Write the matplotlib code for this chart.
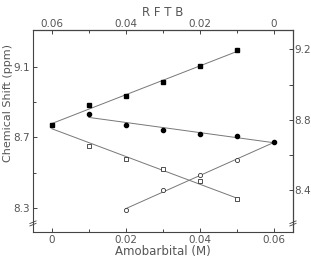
import numpy as np
import matplotlib
matplotlib.use("Agg")
import matplotlib.pyplot as plt

# Data (amobarbital concentration, M ; chemical shift, ppm)
x_start = [0.0]
y_start = [8.768]

x_fsq = [0.01, 0.02, 0.03, 0.04, 0.05]
y_fsq = [8.886, 8.935, 9.014, 9.105, 9.194]

x_fci = [0.01, 0.02, 0.03, 0.04, 0.05, 0.06]
y_fci = [8.832, 8.772, 8.745, 8.721, 8.706, 8.675]

x_osq = [0.01, 0.02, 0.03, 0.04, 0.05]
y_osq = [8.651, 8.577, 8.520, 8.450, 8.348]

x_oci = [0.02, 0.03, 0.04, 0.05]
y_oci = [8.290, 8.400, 8.486, 8.570]

bottom_ticks = [0, 0.02, 0.04, 0.06]
bottom_labels = ["0", "0.02", "0.04", "0.06"]
top_ticks = [0.06, 0.04, 0.02, 0]
top_labels = ["0.06", "0.04", "0.02", "0"]
left_ticks = [8.3, 8.7, 9.1]
right_ticks = [8.4, 8.8, 9.2]

txt = "#555555"
fig = plt.figure(figsize=(3.11, 2.61), dpi=100)
ax = fig.add_axes([0.106, 0.111, 0.836, 0.774])

lc = "#777777"
def fitline(xs, ys, x0, x1):
    p = np.polyfit(xs, ys, 1)
    xx = np.array([x0, x1])
    ax.plot(xx, np.polyval(p, xx), color=lc, lw=0.7, zorder=1)

fitline(x_start + x_fsq, y_start + y_fsq, 0.0, 0.05)
fitline(x_start + x_osq, y_start + y_osq, 0.0, 0.05)
fitline(x_fci, y_fci, 0.01, 0.06)
fitline(x_oci + [0.06], y_oci + [y_fci[-1]], 0.02, 0.06)

ms = 3.2
ax.plot(x_start, y_start, 's', color='black', ms=ms, zorder=3)
ax.plot(x_fsq, y_fsq, 's', color='black', ms=ms, zorder=3)
ax.plot(x_fci, y_fci, 'o', color='black', ms=3.0, zorder=3)
ax.plot(x_osq, y_osq, 's', mfc='white', mec='#333333', mew=0.6, ms=ms, zorder=3)
ax.plot(x_oci, y_oci, 'o', mfc='white', mec='#333333', mew=0.6, ms=3.0, zorder=3)

ax.set_xlim(-0.0051, 0.0651)
ax.set_ylim(8.163, 9.31)

for s in ax.spines.values():
    s.set_color("#444444")
    s.set_linewidth(0.8)

fs = 7.5
lfs = 8.5
ax.set_xticks(bottom_ticks)
ax.set_xticklabels(bottom_labels)
ax.set_xticks(np.arange(0, 0.061, 0.01), minor=True)
ax.set_yticks(left_ticks)
ax.set_yticklabels([f"{v:.1f}" for v in left_ticks])
ax.set_yticks(np.arange(8.3, 9.15, 0.2), minor=True)
ax.tick_params(which='both', direction='in', colors="#444444", labelcolor=txt, labelsize=fs, length=3, width=0.7, pad=2)
ax.tick_params(which='minor', length=2)
ax.set_xlabel("Amobarbital (M)", fontsize=lfs, color=txt, labelpad=0)
ax.set_ylabel("Chemical Shift (ppm)", fontsize=8, color=txt)
ax.yaxis.set_label_coords(-0.076, 0.64)

top = ax.secondary_xaxis('top', functions=(lambda v: 0.06 - v, lambda v: 0.06 - v))
top.set_xticks(top_ticks)
top.set_xticklabels(top_labels)
top.set_xticks(np.arange(0, 0.061, 0.01), minor=True)
top.tick_params(which='both', direction='in', colors="#444444", labelcolor=txt, labelsize=fs, length=3, width=0.7, pad=1)
top.tick_params(which='minor', length=2)
top.set_xlabel("R F T B", fontsize=lfs, color=txt, labelpad=2)

right = ax.secondary_yaxis('right')
right.set_yticks(right_ticks)
right.set_yticklabels([f"{v:.1f}" for v in right_ticks])
right.set_yticks(np.arange(8.4, 9.25, 0.2), minor=True)
right.tick_params(which='both', direction='in', colors="#444444", labelcolor=txt, labelsize=fs, length=3, width=0.7, pad=1)
right.tick_params(which='minor', length=3)

# axis break marks
for xa in (0.0, 1.0):
    for dy in (0.0, 0.012):
        ax.plot([xa - 0.012, xa + 0.012], [0.03 + dy, 0.043 + dy], transform=ax.transAxes,
                color="#444444", lw=0.6, clip_on=False)

fig.savefig("out.png", dpi=100)
